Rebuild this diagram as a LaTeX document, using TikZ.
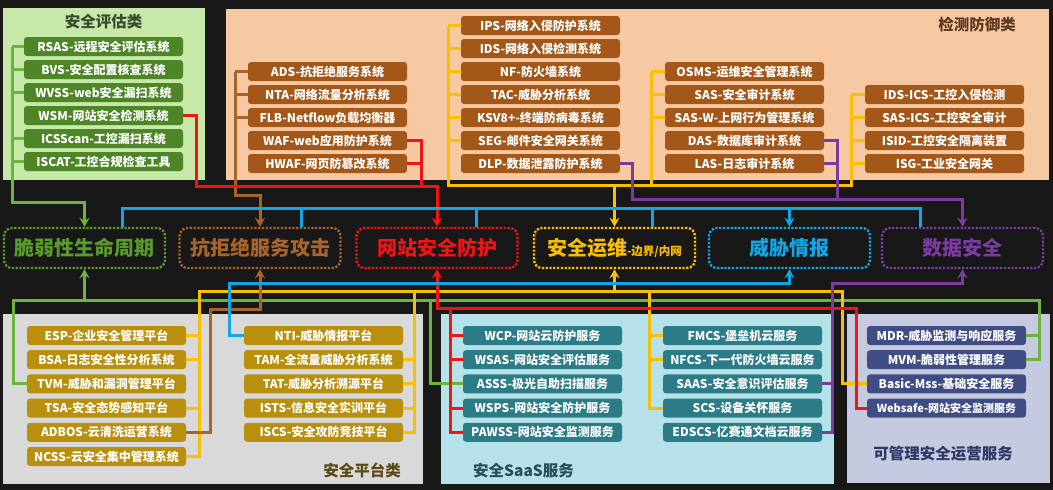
\documentclass[tikz,border=0pt]{standalone}
\usepackage{fontspec}
\setmainfont{Noto Sans CJK SC}
\usetikzlibrary{arrows.meta}
\definecolor{bg}{HTML}{181818}
\definecolor{pgreen}{HTML}{C6E8A8}
\definecolor{ppeach}{HTML}{F6C9A2}
\definecolor{pgrey}{HTML}{D9D9D9}
\definecolor{pcyan}{HTML}{B5E2E8}
\definecolor{plav}{HTML}{C6CAE1}
\definecolor{bgreen}{HTML}{4D8527}
\definecolor{bbrown}{HTML}{A3581A}
\definecolor{bgold}{HTML}{B8900E}
\definecolor{bteal}{HTML}{2C7C87}
\definecolor{bnavy}{HTML}{3F4D84}
\definecolor{lgreen}{HTML}{6DB33F}
\definecolor{lbrown}{HTML}{A8652A}
\definecolor{lred}{HTML}{F01414}
\definecolor{lyellow}{HTML}{F9BF00}
\definecolor{lblue}{HTML}{14A6E4}
\definecolor{lpurple}{HTML}{7A3C9E}
\definecolor{tgreen}{HTML}{5A9A2C}
\definecolor{tbrown}{HTML}{A8642A}
\definecolor{ttA}{HTML}{3C4A2C}
\definecolor{ttB}{HTML}{5C3A1E}
\definecolor{ttC}{HTML}{5A4B14}
\definecolor{ttD}{HTML}{23505C}
\definecolor{ttE}{HTML}{2D3A66}
\tikzset{
  sbox/.style={rounded corners=3pt, minimum width=159pt, minimum height=19pt, inner sep=0pt, text=white, font=\fontsize{12}{12}\selectfont\bfseries},
  gbox/.style={sbox, fill=bgreen},
  brbox/.style={sbox, fill=bbrown},
  gdbox/.style={sbox, fill=bgold},
  tlbox/.style={sbox, fill=bteal},
  nvbox/.style={sbox, fill=bnavy},
  midbox/.style={rounded corners=8pt, minimum width=161pt, minimum height=40pt, inner sep=0pt, line width=2.4pt, dash pattern=on 2.2pt off 1.6pt, fill=bg, font=\fontsize{20}{20}\selectfont\bfseries},
  ptitle/.style={font=\fontsize{15.5}{15.5}\selectfont\bfseries, inner sep=0pt},
  conn/.style={line width=3pt},
  cg/.style={conn, draw=lgreen},
  cb/.style={conn, draw=lbrown},
  cr/.style={conn, draw=lred},
  cy/.style={conn, draw=lyellow},
  cbl/.style={conn, draw=lblue},
  cp/.style={conn, draw=lpurple},
  arr/.style={-{Stealth[length=9pt,width=10pt,inset=3pt]}}
}
\begin{document}
\begin{tikzpicture}[x=1pt,y=-1pt]
\fill[bg] (0,0) rectangle (1053,490);
\useasboundingbox (0,0) rectangle (1053,490);
% panels
\fill[pgreen] (3,8) rectangle (205,180);
\fill[ppeach] (226,9) rectangle (1049,180);
\fill[pgrey] (3,314) rectangle (423,484);
\fill[pcyan] (441,314) rectangle (834,484);
\fill[plav] (847,314) rectangle (1050,483);
% titles
\node[ptitle, text=ttA] (tA) at (103.5,21.5) {安全评估类};
\node[ptitle, text=ttB] (tB) at (977,25) {检测防御类};
\node[ptitle, text=ttC] (tC) at (362,470) {安全平台类};
\node[ptitle, text=ttD, anchor=west] (tD) at (473,471) {安全SaaS服务};
\node[ptitle, text=ttE] (tE) at (943,454) {可管理安全运营服务};
% top-left green boxes
\node[gbox] (RSAS) at (103.5,46.5) {RSAS-远程安全评估系统};
\node[gbox] (BVS) at (103.5,69.5) {BVS-安全配置核查系统};
\node[gbox] (WVSS) at (103.5,92.5) {WVSS-web安全漏扫系统};
\node[gbox] (WSM) at (103.5,115.5) {WSM-网站安全检测系统};
\node[gbox] (ICSScan) at (103.5,138.5) {ICSScan-工控漏扫系统};
\node[gbox] (ISCAT) at (103.5,161.5) {ISCAT-工控合规检查工具};
% brown group 1
\node[brbox] (ADS) at (327.5,71.5) {ADS-抗拒绝服务系统};
\node[brbox] (NTA) at (327.5,94.5) {NTA-网络流量分析系统};
\node[brbox] (FLB) at (327.5,117.5) {FLB-Netflow负载均衡器};
\node[brbox] (WAF) at (327.5,140.5) {WAF-web应用防护系统};
\node[brbox] (HWAF) at (327.5,163.5) {HWAF-网页防篡改系统};
% brown group 2
\node[brbox] (IPS) at (540.5,25.5) {IPS-网络入侵防护系统};
\node[brbox] (IDS) at (540.5,48.5) {IDS-网络入侵检测系统};
\node[brbox] (NF) at (540.5,71.5) {NF-防火墙系统};
\node[brbox] (TAC) at (540.5,94.5) {TAC-威胁分析系统};
\node[brbox] (KSV) at (540.5,117.5) {KSV8+-终端防病毒系统};
\node[brbox] (SEG) at (540.5,140.5) {SEG-邮件安全网关系统};
\node[brbox] (DLP) at (540.5,163.5) {DLP-数据泄露防护系统};
% brown group 3
\node[brbox] (OSMS) at (744.5,71.5) {OSMS-运维安全管理系统};
\node[brbox] (SAS) at (744.5,94.5) {SAS-安全审计系统};
\node[brbox] (SASW) at (744.5,117.5) {SAS-W-上网行为管理系统};
\node[brbox] (DAS) at (744.5,140.5) {DAS-数据库审计系统};
\node[brbox] (LAS) at (744.5,163.5) {LAS-日志审计系统};
% brown group 4
\node[brbox] (IDSICS) at (944.5,94.5) {IDS-ICS-工控入侵检测};
\node[brbox] (SASICS) at (944.5,117.5) {SAS-ICS-工控安全审计};
\node[brbox] (ISID) at (944.5,140.5) {ISID-工控安全隔离装置};
\node[brbox] (ISG) at (944.5,163.5) {ISG-工业安全网关};
% middle boxes
\node[midbox, draw=tgreen, text=tgreen] (M1) at (84.5,248) {脆弱性生命周期};
\node[midbox, draw=tbrown, text=tbrown] (M2) at (260,248) {抗拒绝服务攻击};
\node[midbox, draw=lred, text=lred] (M3) at (437,248) {网站安全防护};
\node[midbox, draw=lyellow, text=lyellow] (M4) at (614.5,248) {安全运维{\fontsize{11.5}{11.5}\selectfont -边界/内网}};
\node[midbox, draw=lblue, text=lblue] (M5) at (789.5,248) {威胁情报};
\node[midbox, draw=lpurple, text=lpurple] (M6) at (962.5,248) {数据安全};
% platform left
\node[gdbox] (ESP) at (106.5,335.5) {ESP-企业安全管理平台};
\node[gdbox] (BSA) at (106.5,359.7) {BSA-日志安全性分析系统};
\node[gdbox] (TVM) at (106.5,383.9) {TVM-威胁和漏洞管理平台};
\node[gdbox] (TSA) at (106.5,408.1) {TSA-安全态势感知平台};
\node[gdbox] (ADBOS) at (106.5,432.3) {ADBOS-云清洗运营系统};
\node[gdbox] (NCSS) at (106.5,456.5) {NCSS-云安全集中管理系统};
% platform right
\node[gdbox] (NTI) at (323.5,335.5) {NTI-威胁情报平台};
\node[gdbox] (TAM) at (323.5,359.7) {TAM-全流量威胁分析系统};
\node[gdbox] (TAT) at (323.5,383.9) {TAT-威胁分析溯源平台};
\node[gdbox] (ISTS) at (323.5,408.1) {ISTS-信息安全实训平台};
\node[gdbox] (ISCS) at (323.5,432.3) {ISCS-安全攻防竞技平台};
% saas left
\node[tlbox] (WCP) at (542.5,335.5) {WCP-网站云防护服务};
\node[tlbox] (WSAS) at (542.5,359.7) {WSAS-网站安全评估服务};
\node[tlbox] (ASSS) at (542.5,383.9) {ASSS-极光自助扫描服务};
\node[tlbox] (WSPS) at (542.5,408.1) {WSPS-网站安全防护服务};
\node[tlbox] (PAWSS) at (542.5,432.3) {PAWSS-网站安全监测服务};
% saas right
\node[tlbox] (FMCS) at (742.5,335.5) {FMCS-堡垒机云服务};
\node[tlbox] (NFCS) at (742.5,359.7) {NFCS-下一代防火墙云服务};
\node[tlbox] (SAAS) at (742.5,383.9) {SAAS-安全意识评估服务};
\node[tlbox] (SCS) at (742.5,408.1) {SCS-设备关怀服务};
\node[tlbox] (EDSCS) at (742.5,432.3) {EDSCS-亿赛通文档云服务};
% mss
\node[nvbox] (MDR) at (946.5,335.5) {MDR-威胁监测与响应服务};
\node[nvbox] (MVM) at (946.5,359.7) {MVM-脆弱性管理服务};
\node[nvbox] (Basic) at (946.5,383.9) {Basic-Mss-基础安全服务};
\node[nvbox, font=\fontsize{11}{11}\selectfont\bfseries] (Websafe) at (946.5,408.1) {Websafe-网站安全监测服务};
% bus x positions
\coordinate (gx) at (12,0);
\coordinate (bx) at (235,0);
\coordinate (rx) at (421,0);
\coordinate (y1) at (448,0);
\coordinate (y2) at (651,0);
\coordinate (y3) at (851,0);
\coordinate (p1) at (632,0);
\coordinate (p2) at (837,0);
% ---- top connectors ----
\foreach \n in {RSAS,BVS,WVSS,ICSScan,ISCAT} \draw[cg] (\n.west) -- (\n.west -| gx);
\draw[cg,arr] (RSAS.west -| gx) |- (M1.north |- 0,202) -- (M1.north);
\foreach \n in {ADS,NTA,FLB} \draw[cb] (\n.west) -- (\n.west -| bx);
\draw[cb,arr] (ADS.west -| bx) |- (M2.north |- 0,195) -- (M2.north);
\draw[cr] (WAF.east) -- (WAF.east -| rx) -- (rx |- 0,186);
\draw[cr] (HWAF.east) -- (HWAF.east -| rx);
\draw[cr,arr] (WSM.east) -| (196,186) -| (M3.north);
\foreach \n in {IPS,IDS,NF,TAC,KSV,SEG} \draw[cy] (\n.west) -- (\n.west -| y1);
\foreach \n in {OSMS,SAS,SASW} \draw[cy] (\n.west) -- (\n.west -| y2);
\foreach \n in {IDSICS,SASICS,ISID,ISG} \draw[cy] (\n.west) -- (\n.west -| y3);
\draw[cy] (IPS.west -| y1) |- (y3 |- 0,185) -- (IDSICS.west -| y3);
\draw[cy] (OSMS.west -| y2) -- (y2 |- 0,185);
\draw[cy,arr] (M4.north |- 0,185) -- (M4.north);
\draw[cp] (DAS.east) -| (p2 |- 0,199);
\draw[cp] (LAS.east) -- (LAS.east -| p2);
\draw[cp,arr] (DLP.east) -| (p1 |- 0,199) -| (M6.north);
\draw[cbl] (M1.north -| 122,0) |- (920,208) -- (M6.north -| 920,0);
\draw[cbl] (M2.north -| 301,0) -- (301,208);
\draw[cbl] (M3.north -| 476,0) -- (476,208);
\draw[cbl] (M4.north -| 652,0) -- (652,208);
\draw[cbl,arr] (M5.north |- 0,208) -- (M5.north);
% ---- bottom connectors ----
\draw[cg] (TVM.west) -| (13.5,300.7) -- (1039,300.7) |- (MVM.east);
\draw[cg] (MDR.east) -- (MDR.east -| 1039,0);
\draw[cg] (430,300.7) |- (ASSS.west);
\draw[cg,arr] (M1.south |- 0,300.7) -- (M1.south);
\foreach \n in {ESP,BSA,TSA} \draw[cy] (\n.east) -- (\n.east -| 199,0);
\draw[cy] (NCSS.east) -| (199,291) -- (842,291) |- (Basic.west);
\foreach \n in {TAM,TAT,ISTS} \draw[cy] (\n.east) -- (\n.east -| 414,0);
\draw[cy] (414,291) |- (ISCS.east);
\foreach \n in {FMCS,NFCS} \draw[cy] (\n.west) -- (\n.west -| 649,0);
\draw[cy] (649,291) |- (SCS.west);
\draw[cy,arr] (M4.south |- 0,291) -- (M4.south);
\foreach \n in {WCP,WSAS,WSPS} \draw[cr] (\n.west) -- (\n.west -| 450,0);
\draw[cr] (450,308) |- (PAWSS.west);
\draw[cr,arr] (Websafe.west) -| (856,308) -| (M3.south);
\draw[cb,arr] (ADBOS.east) -| (210,309) -| (M2.south);
\draw[cp] (SAAS.east) -- (SAAS.east -| 832,0);
\draw[cp,arr] (EDSCS.east) -| (832,283.7) -| (M6.south);
\draw[cbl,arr] (NTI.west) -| (229,283.7) -| (M5.south);
\end{tikzpicture}
\end{document}
